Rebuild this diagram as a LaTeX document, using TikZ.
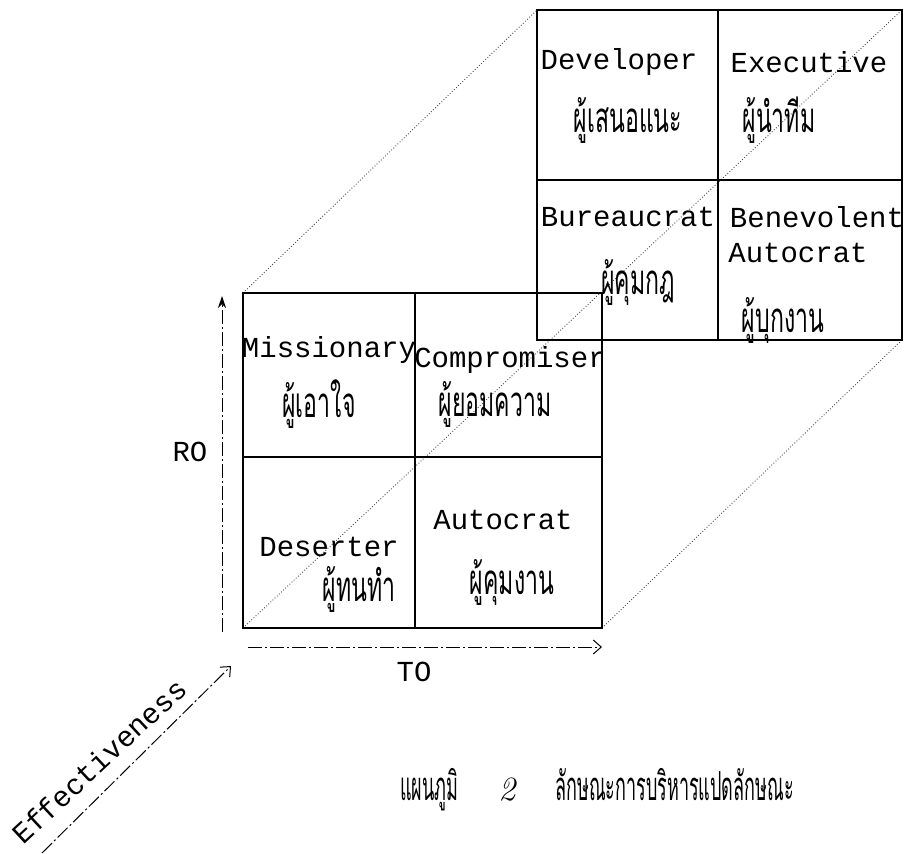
\documentclass[tikz,border=0pt]{standalone}
\usepackage{fontspec}
\setmonofont{Liberation Mono}
\newfontfamily\thaifont[Script=Thai,FakeStretch=0.55]{Loma}
\newfontfamily\thaicap[Script=Thai,FakeStretch=0.45]{Loma}
\usetikzlibrary{arrows.meta,positioning,calc}

\begin{document}
\begin{tikzpicture}[x=0.5pt,y=-0.5pt,
  eng/.style={font=\ttfamily\fontsize{14.5}{16}\selectfont,inner sep=0pt},
  thai/.style={font=\thaifont\fontsize{21}{23}\selectfont,inner sep=0pt},
  box/.style={line width=0.6pt},
  axisline/.style={line width=0.5pt,dash pattern=on 7pt off 1.5pt on 1pt off 1.5pt},
  guide/.style={line width=0.45pt,densely dotted,black!70}]
  \useasboundingbox (0,0) rectangle (904,853);

  % front square (low), corners and centre
  \coordinate (fTL) at (243,293); \coordinate (fTR) at (602,293);
  \coordinate (fBL) at (243,628); \coordinate (fBR) at (602,628);
  \coordinate (fT) at (415,293); \coordinate (fB) at (415,628);
  \coordinate (fL) at (243,457); \coordinate (fR) at (602,457);
  % back square (high)
  \coordinate (bTL) at (537,10); \coordinate (bTR) at (902,10);
  \coordinate (bBL) at (537,340); \coordinate (bBR) at (902,340);
  \coordinate (bT) at (718,10); \coordinate (bB) at (718,340);
  \coordinate (bL) at (537,180); \coordinate (bR) at (902,180);

  % guide lines of the cube
  \draw[guide] (fTL) -- (bTL);
  \draw[guide] (fBL) -- (bTR);
  \draw[guide] (fBR) -- (bBR);

  \draw[box] (bTL) rectangle (bBR);
  \draw[box] (bT) -- (bB); \draw[box] (bL) -- (bR);
  \draw[box] (fTL) rectangle (fBR);
  \draw[box] (fT) -- (fB); \draw[box] (fL) -- (fR);

  % back cells
  \node[eng] (dev) at (619,62) {Developer};
  \node[thai] (devth) at (628,120) {ผู้เสนอแนะ};
  \node[eng] (exe) at (809,62) {Executive};
  \node[thai] (exeth) at (779,120) {ผู้นำทีม};
  \node[eng] (bur) at (628,217) {Bureaucrat};
  \node[thai] (burth) at (638,282) {ผู้คุมกฎ};
  \node[eng] (ben) at (817,217) {Benevolent};
  \node[eng] (bauto) at (798,253) {Autocrat};
  \node[thai] (benth) at (783,320) {ผู้บุกงาน};

  % front cells
  \node[eng] (mis) at (329,350) {Missionary};
  \node[thai] (misth) at (319,404) {ผู้เอาใจ};
  \node[eng] (com) at (510,360) {Compromiser};
  \node[thai] (comth) at (495,404) {ผู้ยอมความ};
  \node[eng] (des) at (329,547) {Deserter};
  \node[thai] (desth) at (359,589) {ผู้ทนทำ};
  \node[eng] (fauto) at (503,520) {Autocrat};
  \node[thai] (fautoth) at (512,582) {ผู้คุมงาน};

  % axes
  \coordinate (roS) at (222,632); \coordinate (roE) at (222,296);
  \coordinate (toS) at (248,647); \coordinate (toE) at (602,647);
  \coordinate (efS) at (42,853);  \coordinate (efE) at (231,666);
  \draw[axisline,-{Stealth[length=6pt,width=4pt]}] (roS) -- (roE);
  \draw[axisline,-{Straight Barb[length=4pt,width=7pt]}] (toS) -- (toE);
  \draw[axisline,-{Straight Barb[length=4pt,width=7pt]}] (efS) -- (efE);
  \node[eng] (ro) at (190,452) {RO};
  \node[eng] (to) at (414,672) {TO};
  \node[eng,rotate=43] (eff) at (99,761) {Effectiveness};

  \node[inner sep=0pt,font=\thaicap\fontsize{20}{22}\selectfont] (cap) at (597,790)
    {แผนภูมิ\quad{\rmfamily\itshape\fontsize{17}{18}\selectfont 2}\quad ลักษณะการบริหารแปดลักษณะ};
\end{tikzpicture}
\end{document}
